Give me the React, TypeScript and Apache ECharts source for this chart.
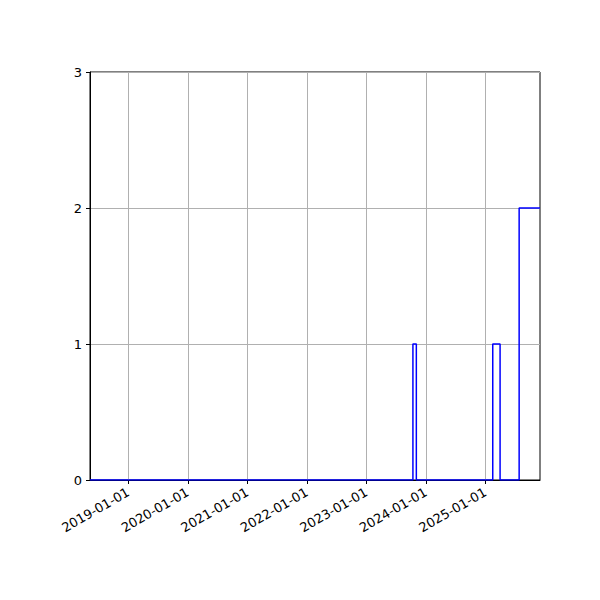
import * as echarts from 'echarts'
import { useEffect, useRef } from 'react'

// 时间范围（即坐标轴两端）
const xStart = '2018-05-11'
const xEnd = '2025-12-02'

// 阶梯线的转折点（post：保持到下一个点）
const stepDates = ['2018-05-11', '2023-10-14', '2023-11-04', '2025-02-15', '2025-04-01', '2025-07-27', '2025-12-02']
const stepValues = [0, 1, 0, 1, 0, 2, 2]

const yearTicks = ['2019-01-01', '2020-01-01', '2021-01-01', '2022-01-01', '2023-01-01', '2024-01-01', '2025-01-01']
const yTicks = [0, 1, 2, 3]

const ts = (s: string) => new Date(s + 'T00:00:00Z').getTime()

const fmt = (v: number) => {
  const d = new Date(v)
  const p = (n: number) => String(n).padStart(2, '0')
  return `${d.getUTCFullYear()}-${p(d.getUTCMonth() + 1)}-${p(d.getUTCDate())}`
}

export default function App() {
  const ref = useRef<HTMLDivElement>(null)

  useEffect(() => {
    document.body.style.margin = '0'
    if (!ref.current) return
    const chart = echarts.init(ref.current, null, { renderer: 'svg' })
    const tickVals = yearTicks.map(ts)
    const font = { fontFamily: 'DejaVu Sans', fontSize: 13, color: '#000' }

    chart.setOption({
      animation: false,
      grid: {
        left: 90,
        top: 72,
        width: 450,
        height: 408,
        show: true,
        borderColor: '#000',
        borderWidth: 1,
        backgroundColor: 'transparent',
      },
      xAxis: {
        type: 'value',
        min: ts(xStart),
        max: ts(xEnd),
        axisLine: { show: true, lineStyle: { color: '#000' } },
        axisTick: { show: true, customValues: tickVals, length: 4, lineStyle: { color: '#000' } },
        axisLabel: {
          customValues: tickVals,
          rotate: 30,
          formatter: (v: number) => fmt(v),
          margin: 11,
          ...font,
        },
        splitLine: { show: false },
      },
      yAxis: {
        type: 'value',
        min: 0,
        max: 3,
        interval: 1,
        axisLine: { show: true, lineStyle: { color: '#000' } },
        axisTick: { show: true, length: 4, lineStyle: { color: '#000' } },
        axisLabel: { ...font, margin: 8, formatter: (v: number) => (yTicks.includes(v) ? String(v) : '') },
        splitLine: { show: true, lineStyle: { color: '#b0b0b0', width: 1 } },
      },
      series: [
        {
          type: 'line',
          step: 'end',
          data: stepDates.map((d, i) => [ts(d), stepValues[i]]),
          showSymbol: false,
          lineStyle: { color: '#0000ff', width: 1.5 },
          z: 3,
          markLine: {
            silent: true,
            symbol: 'none',
            label: { show: false },
            lineStyle: { color: '#b0b0b0', width: 1, type: 'solid' },
            data: tickVals.map((v) => ({ xAxis: v })),
            z: 1,
          },
        },
      ],
    })

    return () => chart.dispose()
  }, [])

  return <div ref={ref} style={{ width: 600, height: 600 }} />
}
